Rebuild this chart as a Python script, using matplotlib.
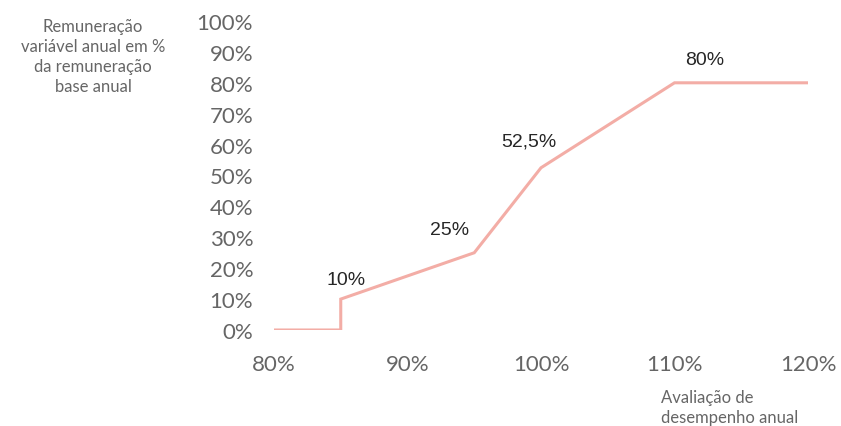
import matplotlib
matplotlib.use("Agg")
import matplotlib.pyplot as plt

# performance rating (%) and variable pay (% of base pay)
avaliacao = [80, 85, 85, 95, 100, 110, 120]
remuneracao = [0, 0, 10, 25, 52.5, 80, 80]

# labelled points and their text
label_x = [85, 95, 100, 110]
label_y = [10, 25, 52.5, 80]
label_txt = ["10%", "25%", "52,5%", "80%"]
label_off = [(4, 14), (-18, 17), (-9, 19), (22, 17)]

x_ticks = [80, 90, 100, 110, 120]
y_ticks = [0, 10, 20, 30, 40, 50, 60, 70, 80, 90, 100]

grey = "#666666"
line_color = "#F3ADA6"

fig = plt.figure(figsize=(8.41, 4.27), dpi=100)
ax = fig.add_axes([274 / 841, 1 - 331 / 427, (808 - 274) / 841, (331 - 22) / 427])

ax.plot(avaliacao, remuneracao, color=line_color, linewidth=2.2, solid_joinstyle="miter")

for x, y, t, off in zip(label_x, label_y, label_txt, label_off):
    ax.annotate(t, (x, y), xytext=off, textcoords="offset points",
                ha="center", va="center", fontsize=14, color="#262626",
                family="Liberation Sans")

ax.set_xlim(80, 120)
ax.set_ylim(0, 100)
ax.set_xticks(x_ticks)
ax.set_xticklabels([f"{v}%" for v in x_ticks])
ax.set_yticks(y_ticks)
ax.set_yticklabels([f"{v}%" for v in y_ticks])
ax.tick_params(length=0, labelsize=16, labelcolor=grey)
ax.tick_params(axis="y", pad=15)
ax.tick_params(axis="x", pad=17)
for lab in ax.get_xticklabels() + ax.get_yticklabels():
    lab.set_family("Lato")
for s in ax.spines.values():
    s.set_visible(False)

fig.text(93 / 841, 1 - 57 / 427,
         "Remuneração\nvariável anual em %\nda remuneração\nbase anual",
         ha="center", va="center", fontsize=12, color=grey, family="Lato",
         linespacing=1.3)
fig.text(661 / 841, 1 - 408 / 427, "Avaliação de\ndesempenho anual",
         ha="left", va="center", fontsize=12, color=grey, family="Lato",
         linespacing=1.3)

fig.savefig("out.png", dpi=100)
